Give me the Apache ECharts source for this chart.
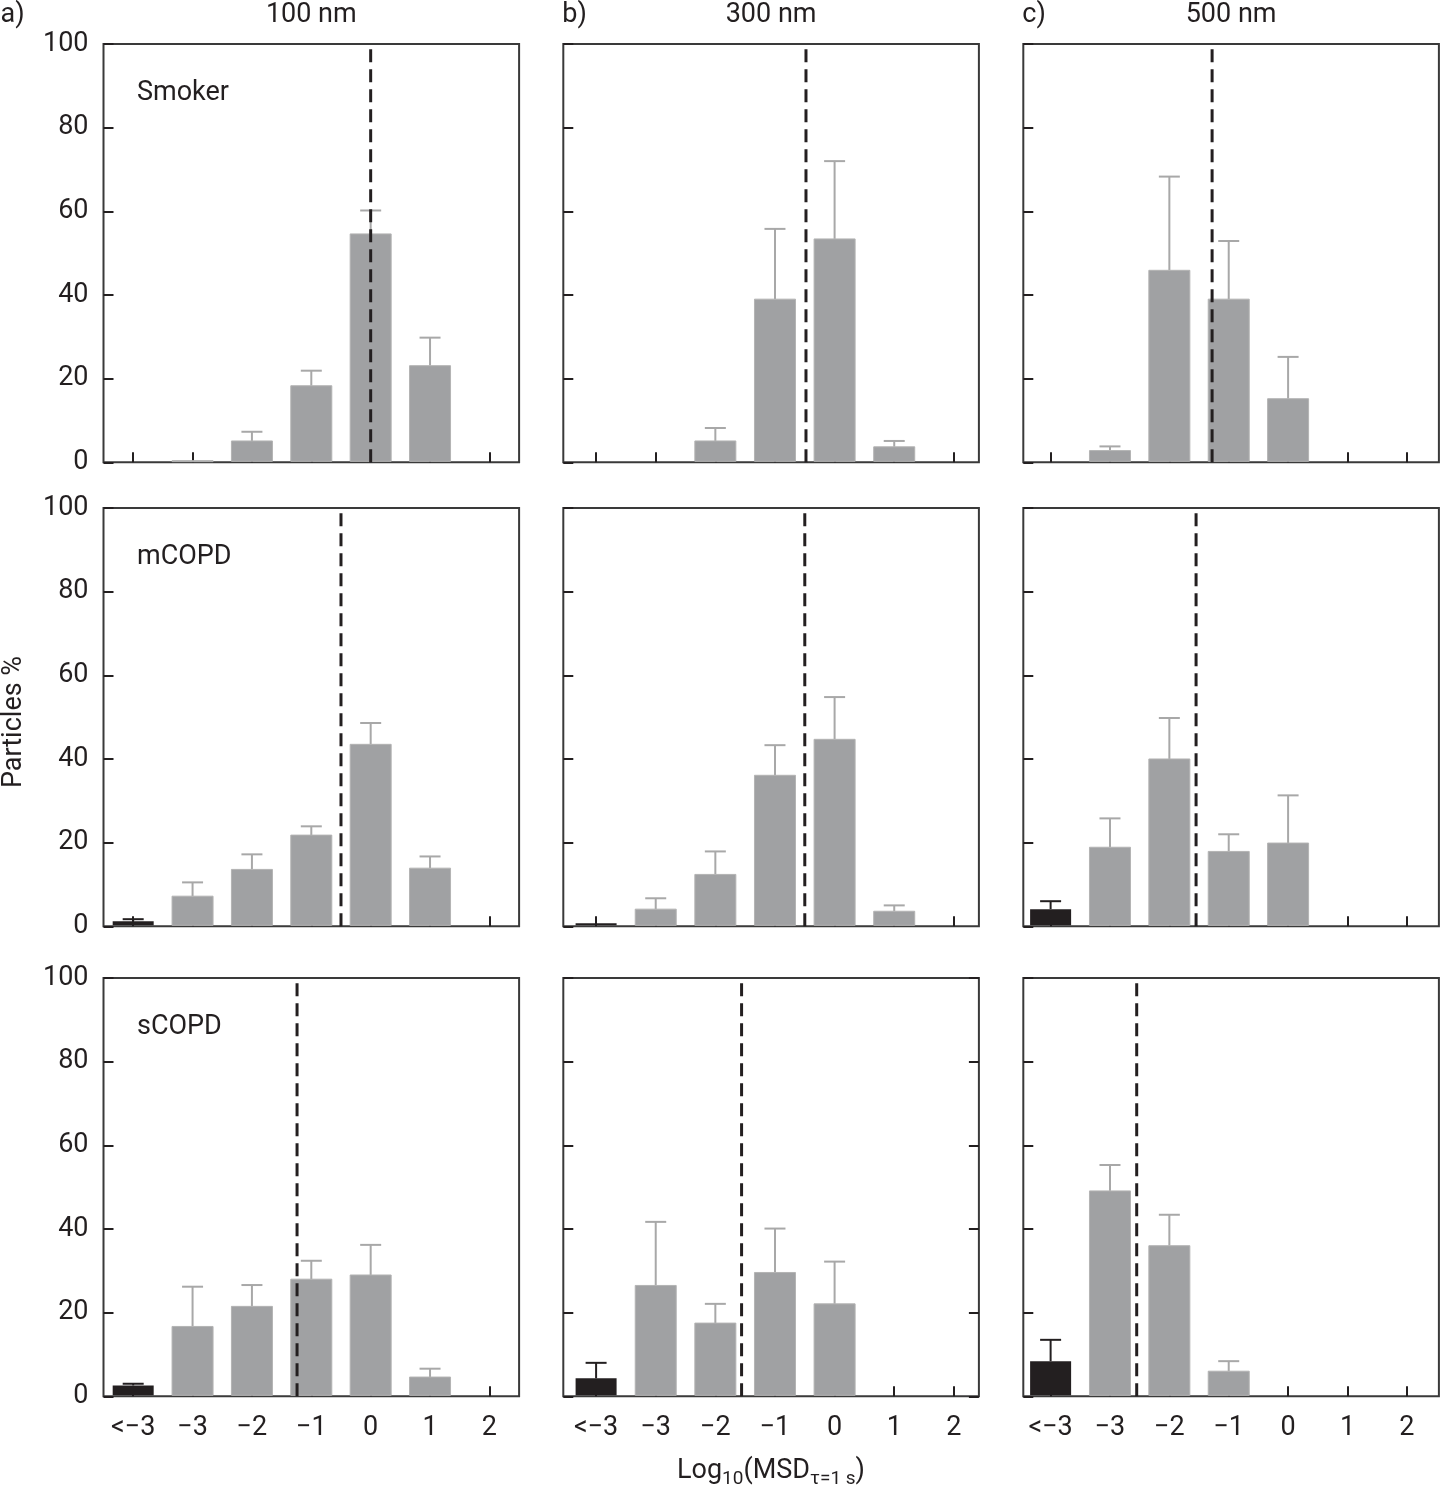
<!DOCTYPE html>
<html>
<head>
<meta charset="utf-8">
<script src="https://cdn.jsdelivr.net/npm/echarts@6/dist/echarts.min.js"></script>
<style>html,body{margin:0;padding:0;background:#fff}#c{width:1441px;height:1500px}</style>
</head>
<body>
<div id="c"></div>
<script>
// ---- data ----
const categories = ['<\u22123', '\u22123', '\u22122', '\u22121', '0', '1', '2'];
const tickValues = [0, 1, 2, 3, 4, 5, 6];
const columnTitles = ['100 nm', '300 nm', '500 nm'];
const columnLetters = ['a)', 'b)', 'c)'];
const groupNames = ['Smoker', 'mCOPD', 'sCOPD'];

// Smoker
const smoker100 = [0, 0.4, 5.1, 18.3, 54.6, 23.1, 0];
const smoker100Sd = [0, 0, 2.2, 3.6, 5.6, 6.7, 0];
const smoker100Median = 4.0;
const smoker300 = [0, 0, 5.1, 39.0, 53.4, 3.7, 0];
const smoker300Sd = [0, 0, 3.1, 16.8, 18.6, 1.4, 0];
const smoker300Median = 3.52;
const smoker500 = [0, 2.8, 45.9, 39.0, 15.2, 0, 0];
const smoker500Sd = [0, 1.0, 22.4, 13.9, 10.0, 0, 0];
const smoker500Median = 2.72;
// mCOPD
const mcopd100 = [1.2, 7.2, 13.6, 21.8, 43.5, 13.9, 0];
const mcopd100Sd = [0.5, 3.3, 3.6, 2.1, 5.1, 2.8, 0];
const mcopd100Median = 3.5;
const mcopd300 = [0.7, 4.1, 12.4, 36.1, 44.7, 3.6, 0];
const mcopd300Sd = [0, 2.6, 5.5, 7.2, 10.1, 1.4, 0];
const mcopd300Median = 3.5;
const mcopd500 = [4.1, 18.9, 40.0, 17.9, 19.9, 0, 0];
const mcopd500Sd = [1.9, 6.9, 9.8, 4.1, 11.4, 0, 0];
const mcopd500Median = 2.45;
// sCOPD
const scopd100 = [2.6, 16.7, 21.5, 28.0, 29.0, 4.6, 0];
const scopd100Sd = [0.4, 9.5, 5.1, 4.4, 7.2, 2.0, 0];
const scopd100Median = 2.76;
const scopd300 = [4.3, 26.5, 17.5, 29.6, 22.1, 0, 0];
const scopd300Sd = [3.7, 15.2, 4.6, 10.5, 10.1, 0, 0];
const scopd300Median = 2.44;
const scopd500 = [8.4, 49.1, 36.0, 6.0, 0, 0, 0];
const scopd500Sd = [5.1, 6.2, 7.4, 2.4, 0, 0, 0];
const scopd500Median = 1.45;

const panels = [
  [smoker100, smoker100Sd, smoker100Median], [smoker300, smoker300Sd, smoker300Median], [smoker500, smoker500Sd, smoker500Median],
  [mcopd100, mcopd100Sd, mcopd100Median], [mcopd300, mcopd300Sd, mcopd300Median], [mcopd500, mcopd500Sd, mcopd500Median],
  [scopd100, scopd100Sd, scopd100Median], [scopd300, scopd300Sd, scopd300Median], [scopd500, scopd500Sd, scopd500Median]
];

// ---- layout ----
const FONT = 'Roboto, "Noto Sans", sans-serif';
const INK = '#231f20';
const colLeft = [103.5, 563.3, 1023.3];
const colXMin = [-0.50, -0.55, -0.46];
const colXMax = [6.50, 6.42, 6.54];
const gridW = 415.6;
const rowTop = [44, 508, 978];
const gridH = 418.3;
const FS = 27;

const chart = echarts.init(document.getElementById('c'), null, {renderer: 'canvas'});

const grids = [], xAxes = [], yAxes = [], series = [], graphics = [];
const tickStyle = {color: INK, width: 2};

function renderBar(params, api) {
  const i = api.value(0), v = api.value(1), sd = api.value(2);
  if (!(v > 0)) return null;
  const b = api.coord([i, 0]);
  const t = api.coord([i, v]);
  const dark = i === 0;
  const fill = dark ? INK : '#a0a1a3';
  const errColor = dark ? INK : '#a8a8a8';
  const children = [];
  if (sd > 0) {
    const e = api.coord([i, v + sd]);
    children.push({type: 'line', shape: {x1: b[0], y1: t[1], x2: b[0], y2: e[1]}, style: {stroke: errColor, lineWidth: 2}});
    children.push({type: 'line', shape: {x1: b[0] - 10.5, y1: e[1], x2: b[0] + 10.5, y2: e[1]}, style: {stroke: errColor, lineWidth: 2}});
  }
  children.push({type: 'rect', shape: {x: b[0] - 20.5, y: t[1], width: 41, height: Math.max(b[1] - t[1] - 1, 1)},
    style: {fill: fill, stroke: dark ? null : '#b3b3b3', lineWidth: dark ? 0 : 1}});
  return {type: 'group', children: children};
}

for (let r = 0; r < 3; r++) {
  for (let c = 0; c < 3; c++) {
    const g = r * 3 + c;
    const [vals, sds, med] = panels[g];
    grids.push({left: colLeft[c], top: rowTop[r], width: gridW, height: gridH, show: true,
      borderColor: '#3a3a3a', borderWidth: 2, backgroundColor: 'transparent', containLabel: false});
    xAxes.push({gridIndex: g, type: 'value', min: colXMin[c], max: colXMax[c], position: 'bottom',
      axisLine: {show: false, onZero: false}, splitLine: {show: false},
      axisTick: {show: true, inside: true, length: 10, customValues: tickValues, lineStyle: tickStyle},
      axisLabel: {show: r === 2, customValues: tickValues, margin: 18, fontSize: FS, color: INK, fontFamily: FONT,
        formatter: (v) => categories[Math.round(v)]}});
    yAxes.push({gridIndex: g, type: 'value', min: 0, max: 100, interval: 20, position: 'left',
      axisLine: {show: false, onZero: false}, splitLine: {show: false},
      axisTick: {show: true, inside: true, length: 10, lineStyle: tickStyle},
      axisLabel: {show: c === 0, margin: 15, fontSize: FS, color: INK, fontFamily: FONT}});
    const yIdx = yAxes.length - 1;
    if (r === 2 && c === 1) {
      yAxes.push({gridIndex: g, type: 'value', position: 'right', min: 0, max: 100, interval: 20,
        axisLine: {show: false, onZero: false}, splitLine: {show: false},
        axisTick: {show: true, inside: true, length: 10, lineStyle: tickStyle},
        axisLabel: {show: false}});
    }
    series.push({type: 'custom', xAxisIndex: g, yAxisIndex: yIdx, renderItem: renderBar, z: 3,
      encode: {x: 0, y: 1},
      data: tickValues.map((x, k) => [x, vals[k], sds[k]])});
    series.push({type: 'line', xAxisIndex: g, yAxisIndex: yIdx, z: 5, silent: true,
      showSymbol: false, symbol: 'none',
      lineStyle: {color: INK, width: 3, type: [13, 7]},
      data: [[med, 0], [med, 99]]});
  }
}

// texts
const TF = FS + 'px ' + FONT;
for (let c = 0; c < 3; c++) {
  graphics.push({type: 'text', x: colLeft[c] - (c === 0 ? 103 : 1), y: 15,
    style: {text: columnLetters[c], font: TF, fill: INK, align: 'left', verticalAlign: 'middle'}});
  graphics.push({type: 'text', x: colLeft[c] + gridW / 2, y: 15,
    style: {text: columnTitles[c], font: TF, fill: INK, align: 'center', verticalAlign: 'middle'}});
}
for (let r = 0; r < 3; r++) {
  graphics.push({type: 'text', x: 137, y: rowTop[r] + 49,
    style: {text: groupNames[r], font: TF, fill: INK, align: 'left', verticalAlign: 'middle'}});
}
graphics.push({type: 'text', x: 14, y: 722, rotation: Math.PI / 2,
  style: {text: 'Particles %', font: TF, fill: INK, align: 'center', verticalAlign: 'middle'}});
graphics.push({type: 'text', x: 771, y: 1471,
  style: {text: '{m|Log}{s|10}{m|(MSD}{s|\u03c4=1 s}{m|)}', align: 'center', verticalAlign: 'middle', fill: INK,
    rich: {
      m: {fontSize: FS, fontFamily: FONT, fill: INK, lineHeight: 36, verticalAlign: 'middle'},
      s: {fontSize: 19, fontFamily: FONT, fill: INK, lineHeight: 1, verticalAlign: 'bottom'}
    }}});

chart.setOption({
  animation: false,
  backgroundColor: '#fff',
  textStyle: {fontFamily: FONT},
  grid: grids, xAxis: xAxes, yAxis: yAxes, series: series,
  graphic: graphics
});
</script>
</body>
</html>
